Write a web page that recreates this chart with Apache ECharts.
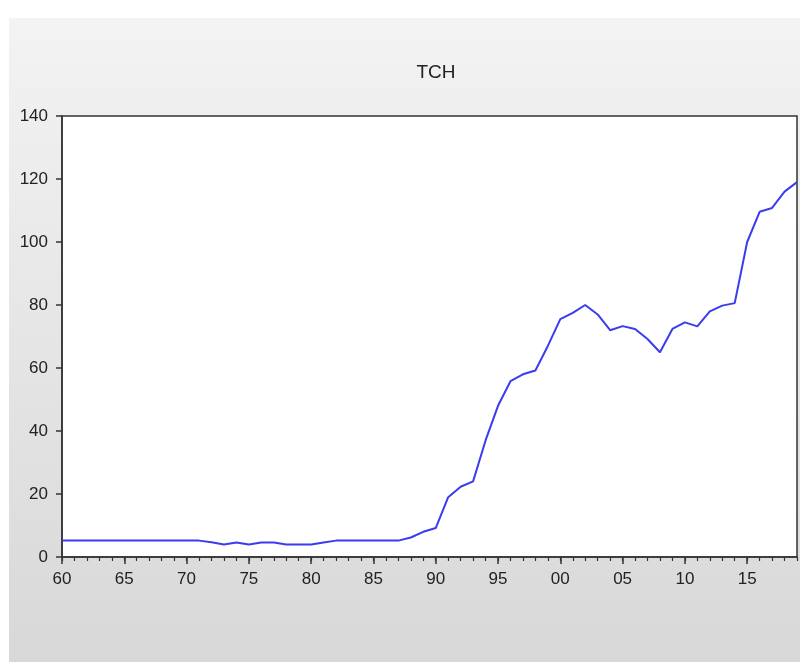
<!DOCTYPE html>
<html>
<head>
<meta charset="utf-8">
<script src="https://cdn.jsdelivr.net/npm/echarts@6/dist/echarts.min.js"></script>
<style>
  html, body { margin: 0; padding: 0; background: #fff; }
  #chart { width: 800px; height: 662px; }
</style>
</head>
<body>
<div id="chart"></div>
<script>
// TCH, annual, 1960-2019
const years = [];
for (let y = 1960; y <= 2019; y++) years.push(y);

const tch = [
  5.2, 5.2, 5.2, 5.2, 5.2, 5.2, 5.2, 5.2, 5.2, 5.2,   // 1960-69
  5.2, 5.2, 4.7, 4.0, 4.6, 4.0, 4.6, 4.6, 4.0, 4.0,   // 1970-79
  4.0, 4.6, 5.2, 5.2, 5.2, 5.2, 5.2, 5.2, 6.2, 8.0,   // 1980-89
  9.2, 19.0, 22.3, 24.0, 37.0, 48.0, 55.8, 58.0, 59.2, 67.0, // 1990-99
  75.5, 77.5, 80.0, 77.0, 72.0, 73.3, 72.4, 69.2, 65.0, 72.4, // 2000-09
  74.5, 73.2, 78.0, 79.8, 80.6, 100.0, 109.6, 110.8, 116.0, 119.0 // 2010-19
];

const yTicks = [0, 20, 40, 60, 80, 100, 120, 140];

const chart = echarts.init(document.getElementById('chart'));
const labelFont = 'Liberation Sans, Arial, sans-serif';

const option = {
  animation: false,
  backgroundColor: '#ffffff',
  graphic: [
    {
      type: 'rect',
      z: -10,
      silent: true,
      shape: { x: 9, y: 18, width: 791, height: 644 },
      style: {
        fill: new echarts.graphic.LinearGradient(0, 0, 0, 1, [
          { offset: 0, color: '#f3f3f3' },
          { offset: 1, color: '#d8d8d8' }
        ])
      }
    }
  ],
  title: {
    text: 'TCH',
    left: 431,
    textAlign: 'center',
    top: 58,
    textStyle: { fontSize: 19, fontWeight: 'normal', color: '#222', fontFamily: labelFont }
  },
  grid: {
    left: 62, right: 3, top: 116, bottom: 105,
    show: true,
    backgroundColor: '#ffffff',
    borderColor: '#333',
    borderWidth: 1.5
  },
  xAxis: [
    {
      type: 'value',
      min: 1960, max: 2019, interval: 5,
      axisLine: { show: true, lineStyle: { color: '#333', width: 1.5 } },
      axisTick: { show: true, length: 7, lineStyle: { color: '#333', width: 1.5 } },
      axisLabel: {
        margin: 14,
        fontSize: 17,
        color: '#222',
        fontFamily: labelFont,
        showMaxLabel: false,
        formatter: v => (v % 5 === 0 ? String(v % 100).padStart(2, '0') : '')
      },
      splitLine: { show: false }
    },
    {
      type: 'value',
      position: 'bottom',
      min: 1960, max: 2019, interval: 1,
      axisLine: { show: false },
      axisTick: { show: true, length: 4, lineStyle: { color: '#333', width: 1.2 } },
      axisLabel: { show: false },
      splitLine: { show: false }
    }
  ],
  yAxis: {
    type: 'value',
    min: yTicks[0], max: yTicks[yTicks.length - 1], interval: 20,
    axisLine: { show: true, lineStyle: { color: '#333', width: 1.5 } },
    axisTick: { show: true, length: 6, lineStyle: { color: '#333', width: 1.5 } },
    axisLabel: { margin: 14, fontSize: 17, color: '#222', fontFamily: labelFont },
    splitLine: { show: false }
  },
  series: [
    {
      name: 'TCH',
      type: 'line',
      xAxisIndex: 0,
      data: years.map((y, i) => [y, tch[i]]),
      showSymbol: false,
      lineStyle: { color: '#3b3bf0', width: 2 },
      itemStyle: { color: '#3b3bf0' }
    }
  ]
};

chart.setOption(option);
</script>
</body>
</html>
